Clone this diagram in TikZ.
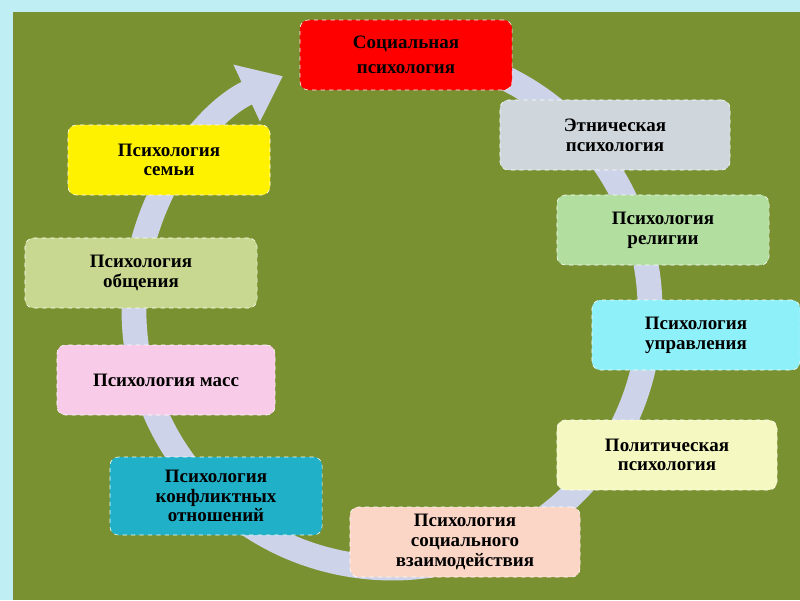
\documentclass[tikz,border=0pt]{standalone}
\usepackage{fontspec}
\setmainfont{Liberation Serif}
\usetikzlibrary{positioning, arrows.meta, calc}
\definecolor{panel}{HTML}{7A9132}
\definecolor{ringc}{HTML}{CDD4EA}
\definecolor{skyc}{HTML}{BFEFF5}
\tikzset{
    %Define style for boxes
    box/.style={
           rectangle,
           rounded corners=6pt,
           draw=white, dashed, thin,
           minimum width=5.3cm,
           minimum height=1.75cm,
           align=center,
           font=\fontsize{13.5}{14}\selectfont\bfseries},
%
    % Define ring style
    ring/.style={
           draw=ringc,
           line width=0.62cm,
           -{Triangle[length=1cm,width=1.5cm]}}
}
\begin{document}
\begin{tikzpicture}[x=0.025cm,y=-0.025cm]
  \useasboundingbox (0,0) rectangle (800,600);
  \fill[skyc] (0,0) rectangle (800,600);
  \fill[panel] (13,12) rectangle (800,600);

  % ring arrow
  \coordinate (c) at (392,310);
  \draw[ring] ($(c)+(-80:258)$) arc[start angle=-80, end angle=245, radius=258];

  \node[box, fill=red, minimum width=5.3cm] (social) at (406,55) {Социальная\\[4pt]психология};
  \node[box, fill={rgb,255:red,208;green,215;blue,220}, minimum width=5.75cm] (ethnic) at (615,135) {Этническая\\психология};
  \node[box, fill={rgb,255:red,178;green,222;blue,160}] (religion) at (663,230) {Психология\\религии};
  \node[box, fill={rgb,255:red,142;green,240;blue,248}, minimum width=5.2cm] (manage) at (696,335) {Психология\\управления};
  \node[box, fill={rgb,255:red,245;green,248;blue,192}, minimum width=5.5cm] (politic) at (667,455) {Политическая\\психология};
  \node[box, fill={rgb,255:red,251;green,213;blue,197}, minimum width=5.75cm] (interact) at (465,542) {Психология\\социального\\взаимодействия};
  \node[box, fill={rgb,255:red,32;green,176;blue,200}, minimum height=1.95cm] (conflict) at (216,496) {Психология\\конфликтных\\отношений};
  \node[box, fill={rgb,255:red,248;green,204;blue,232}, minimum width=5.45cm] (mass) at (166,380) {Психология масс};
  \node[box, fill={rgb,255:red,200;green,216;blue,144}, minimum width=5.8cm] (commun) at (141,273) {Психология\\общения};
  \node[box, fill=yellow, minimum width=5.05cm] (family) at (169,160) {Психология\\семьи};
\end{tikzpicture}
\end{document}
